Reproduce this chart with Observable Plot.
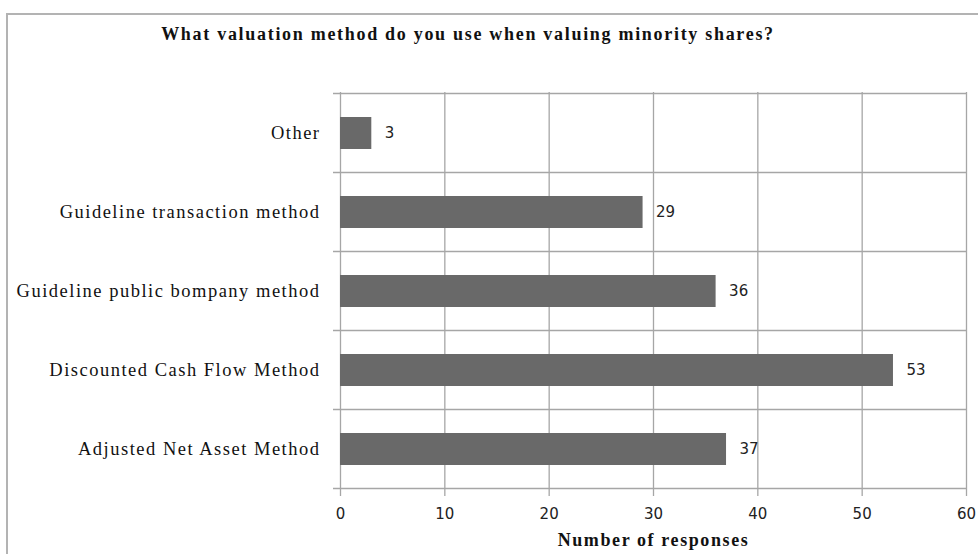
<!DOCTYPE html>
<html><head><meta charset="utf-8">
<script src="https://cdn.jsdelivr.net/npm/d3@7"></script>
<script src="https://cdn.jsdelivr.net/npm/@observablehq/plot@0.6"></script>
<style>
html,body{margin:0;padding:0;background:#fff;}
body{width:978px;height:554px;position:relative;overflow:hidden;}
#chart{position:absolute;left:0;top:0;}
#frame{position:absolute;left:6px;top:13px;width:1000px;height:600px;border:2px solid #b3b3b3;box-sizing:border-box;pointer-events:none;}
#title{position:absolute;left:0;top:25px;width:936px;text-align:center;font:bold 18px "Liberation Serif",serif;line-height:18px;color:#111;letter-spacing:1.7px;}
#chart g[aria-label="y-axis tick label"] text{font:18.5px "Liberation Serif",serif;letter-spacing:1.5px;fill:#111;}
#chart g[aria-label="x-axis tick label"] text{font:15px "DejaVu Sans",sans-serif;fill:#222;}
#chart g[aria-label="x-axis tick"] path, #chart g[aria-label="x-axis tick"]{stroke:#a6a6a6;stroke-width:1.3;}
#chart g[aria-label="x-axis label"] text{font:bold 18px "Liberation Serif",serif;fill:#111;letter-spacing:1.6px;}
</style>
</head><body>
<div id="chart"></div>
<div id="frame"></div>
<div id="title">What valuation method do you use when valuing minority shares?</div>
<script>
const categories = [
  "Other",
  "Guideline transaction method",
  "Guideline public bompany method",
  "Discounted Cash Flow Method",
  "Adjusted Net Asset Method"
];
const responses = [3, 29, 36, 53, 37];
const xTicks = [0, 10, 20, 30, 40, 50, 60];
const axisTitle = "Number of responses";

const data = categories.map((c, i) => ({method: c, n: responses[i]}));

const separators = (index, scales) => {
  const {x, y} = scales;
  const step = typeof y.step === "function" ? y.step() : (y(categories[1]) - y(categories[0]));
  const bw = typeof y.bandwidth === "function" ? y.bandwidth() : step * 0.4;
  const bounds = categories.map(c => y(c) + bw / 2 - step / 2);
  bounds.push(y(categories[categories.length - 1]) + bw / 2 + step / 2);
  const g = d3.create("svg:g").attr("aria-label", "category separators");
  g.selectAll("line").data(bounds).join("line")
    .attr("x1", x(xTicks[0]) - 7).attr("x2", x(xTicks[xTicks.length - 1]))
    .attr("y1", d => d).attr("y2", d => d)
    .attr("stroke", "#a6a6a6").attr("stroke-width", 1.3);
  return g.node();
};

const plot = Plot.plot({
  width: 978,
  height: 554,
  marginLeft: 340,
  marginRight: 12,
  marginTop: 92,
  marginBottom: 65,
  style: {background: "transparent", color: "#222", overflow: "visible"},
  x: {domain: [xTicks[0], xTicks[xTicks.length - 1]], ticks: xTicks, tickSize: 7, tickPadding: 12,
      label: axisTitle, labelAnchor: "center", labelOffset: 56, labelArrow: "none"},
  y: {domain: categories, paddingInner: 0.6, paddingOuter: 0.3, tickSize: 0, tickPadding: 20, label: null},
  marks: [
    Plot.ruleX(xTicks, {stroke: "#a6a6a6", strokeWidth: 1.3}),
    separators,
    Plot.barX(data, {x: "n", y: "method", fill: "#696969"}),
    Plot.text(data, {x: "n", y: "method", text: d => String(d.n), dx: 13, textAnchor: "start",
      fontSize: 15, fontFamily: "DejaVu Sans", fill: "#222"})
  ]
});
document.getElementById("chart").appendChild(plot);
</script>
</body></html>
